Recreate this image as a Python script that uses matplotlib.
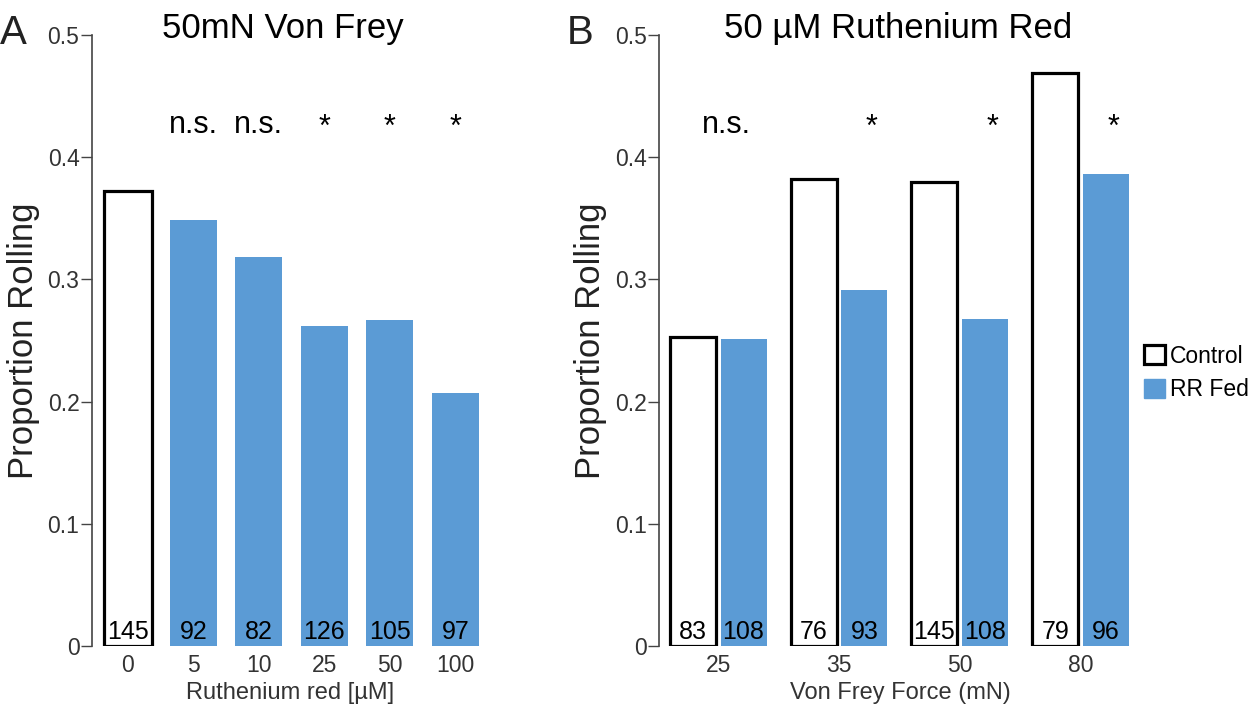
import numpy as np
import matplotlib
matplotlib.use('Agg')
import matplotlib.pyplot as plt
from matplotlib.patches import Patch

plt.rcParams['font.family'] = ['Liberation Sans', 'DejaVu Sans']

# Panel A: 50mN von Frey, different ruthenium red doses
doses = ['0', '5', '10', '25', '50', '100']
prop_a = [0.372, 0.349, 0.318, 0.262, 0.267, 0.207]
n_a = [145, 92, 82, 126, 105, 97]
sig_a = ['', 'n.s.', 'n.s.', '*', '*', '*']

# Panel B: 50 uM ruthenium red, different forces
forces = ['25', '35', '50', '80']
prop_ctrl = [0.253, 0.382, 0.380, 0.469]
prop_rr = [0.251, 0.291, 0.268, 0.386]
n_ctrl = [83, 76, 145, 79]
n_rr = [108, 93, 108, 96]
sig_b = ['n.s.', '*', '*', '*']

blue = '#5B9BD5'
grey = '#333333'

fig = plt.figure(figsize=(12.52, 7.04), dpi=100)
W, H = 1252, 704


def style_ax(ax):
    for s in ['top', 'right', 'bottom']:
        ax.spines[s].set_visible(False)
    ax.spines['left'].set_color('#444444')
    ax.spines['left'].set_linewidth(1.2)
    ax.set_ylim(0, 0.5)
    ax.set_yticks([0, 0.1, 0.2, 0.3, 0.4, 0.5])
    ax.set_yticklabels(['0', '0.1', '0.2', '0.3', '0.4', '0.5'])
    ax.tick_params(axis='y', length=8, width=1, color='#444444', labelsize=16.5, labelcolor=grey, pad=1)
    ax.tick_params(axis='x', length=0, labelsize=16.5, labelcolor=grey, pad=6)
    ax.set_ylabel('Proportion Rolling', fontsize=25, color='#222222')


# ---- panel A
axA = fig.add_axes([92 / W, 1 - 646 / H, 396 / W, 611 / H])
x = np.arange(len(doses))
colors = ['white'] + [blue] * (len(doses) - 1)
edges = ['black'] + [blue] * (len(doses) - 1)
lws = [2.3] + [0] * (len(doses) - 1)
axA.bar(x, prop_a, width=0.72, color=colors, edgecolor=edges, linewidth=lws)
for i in range(len(doses)):
    axA.text(x[i], 0.002, str(n_a[i]), ha='center', va='bottom', fontsize=18, color='black')
    if sig_a[i] == 'n.s.':
        axA.text(x[i], 0.42, sig_a[i], ha='center', va='baseline', fontsize=22)
    elif sig_a[i] == '*':
        axA.text(x[i], 0.424, sig_a[i], ha='center', va='center', fontsize=22)
axA.set_xlim(-0.55, 5.5)
axA.set_xticks(x)
axA.set_xticklabels(doses)
style_ax(axA)
axA.set_xlabel('Ruthenium red [µM]', fontsize=17, color=grey, labelpad=3)
axA.yaxis.set_label_coords(-0.131, 0.5)

# ---- panel B
axB = fig.add_axes([659 / W, 1 - 646 / H, 482 / W, 611 / H])
g = np.arange(len(forces))
off = 0.21
bw = 0.38
axB.bar(g - off, prop_ctrl, width=bw, color='white', edgecolor='black', linewidth=2.3)
axB.bar(g + off, prop_rr, width=bw, color=blue, edgecolor=blue, linewidth=0)
for i in range(len(forces)):
    axB.text(g[i] - off, 0.002, str(n_ctrl[i]), ha='center', va='bottom', fontsize=18)
    axB.text(g[i] + off, 0.002, str(n_rr[i]), ha='center', va='bottom', fontsize=18)
    if sig_b[i] == 'n.s.':
        axB.text(g[i] + 0.07, 0.42, sig_b[i], ha='center', va='baseline', fontsize=22)
    else:
        axB.text(g[i] + off + 0.06, 0.424, sig_b[i], ha='center', va='center', fontsize=22)
axB.set_xlim(-0.49, 3.5)
axB.set_xticks(g)
axB.set_xticklabels(forces)
style_ax(axB)
axB.set_xlabel('Von Frey Force (mN)', fontsize=17, color=grey, labelpad=3)
axB.yaxis.set_label_coords(-0.108, 0.5)

# titles and panel letters
fig.text(283 / W, 1 - 38 / H, '50mN Von Frey', ha='center', va='baseline', fontsize=25)
fig.text(898 / W, 1 - 38 / H, '50 µM Ruthenium Red', ha='center', va='baseline', fontsize=25)
fig.text(0 / W, 1 - 44 / H, 'A', ha='left', va='baseline', fontsize=29, color='#222222')
fig.text(567 / W, 1 - 44 / H, 'B', ha='left', va='baseline', fontsize=29, color='#222222')

handles = [Patch(facecolor='white', edgecolor='black', linewidth=2.3, label='Control'),
           Patch(facecolor=blue, edgecolor=blue, label='RR Fed')]
fig.legend(handles=handles, loc='center left', bbox_to_anchor=(1144 / W, 1 - 373 / H),
           frameon=False, fontsize=16.5, handlelength=0.9, handleheight=0.9,
           handletextpad=0.25, labelspacing=0.45, borderpad=0, borderaxespad=0)

fig.savefig('out.png', dpi=100)
